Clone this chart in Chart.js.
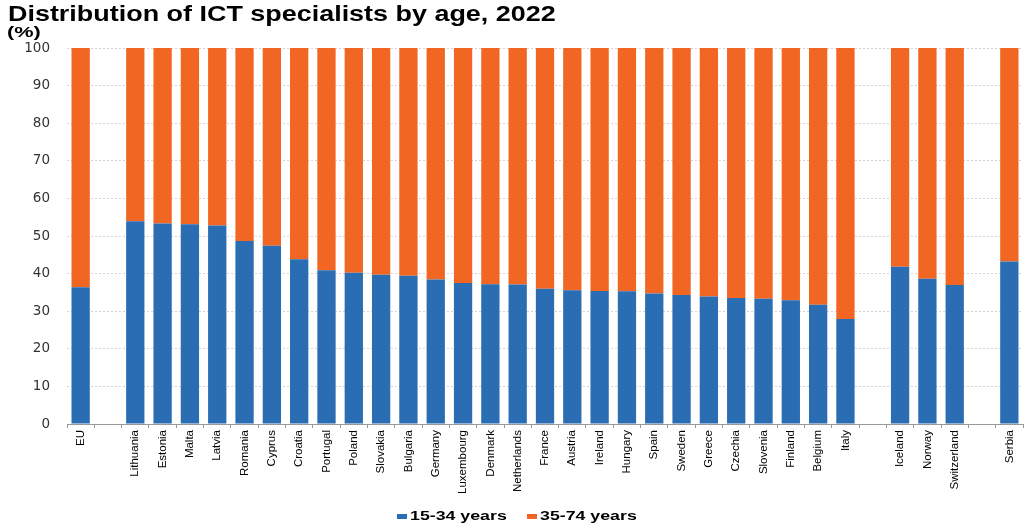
<!DOCTYPE html>
<html>
<head>
<meta charset="utf-8">
<title>ICT specialists by age</title>
<script src="https://cdn.jsdelivr.net/npm/chart.js@4"></script>
<style>
  html, body { margin: 0; padding: 0; background: #fff; }
  .wrap { position: relative; width: 1027px; height: 526px; }
  #chart { display: block; position: absolute; left: 0; top: 0; }
  .txt {
    position: absolute;
    font-family: "Liberation Sans", Arial, Helvetica, sans-serif;
    font-weight: bold;
    color: #000;
    line-height: 1;
    white-space: nowrap;
    transform-origin: left center;
  }
  #title { left: 8px; top: 3px; font-size: 22px; transform: scaleX(1.224); }
  #unit { left: 7px; top: 24px; font-size: 15px; transform: scaleX(1.45); }
  .legend-item { position: absolute; top: 510px; height: 13px; }
  .legend-item .box { position: absolute; left: 0; top: 4px; width: 10px; height: 5px; }
  .legend-item .label { left: 13px; top: 0; font-size: 12px; transform: scaleX(1.48); }
</style>
</head>
<body>
<div class="wrap">
  <canvas id="chart" width="1027" height="526"></canvas>
  <div class="txt" id="title">Distribution of ICT specialists by age, 2022</div>
  <div class="txt" id="unit">(%)</div>
  <div id="legend"></div>
</div>
<script>
// Categories; empty strings leave the gaps between country groups
const countries = [
  "EU", "",
  "Lithuania", "Estonia", "Malta", "Latvia", "Romania", "Cyprus", "Croatia",
  "Portugal", "Poland", "Slovakia", "Bulgaria", "Germany", "Luxembourg",
  "Denmark", "Netherlands", "France", "Austria", "Ireland", "Hungary", "Spain",
  "Sweden", "Greece", "Czechia", "Slovenia", "Finland", "Belgium", "Italy", "",
  "Iceland", "Norway", "Switzerland", "",
  "Serbia"
]

// Share of ICT specialists aged 15-34 (%)
const young = [
  36.4, null,
  53.9, 53.3, 53.1, 52.8, 48.7, 47.4, 43.8,
  40.9, 40.2, 39.7, 39.4, 38.4, 37.5,
  37.2, 37.1, 36.0, 35.6, 35.4, 35.3, 34.7,
  34.3, 33.9, 33.5, 33.3, 32.9, 31.7, 27.9, null,
  41.8, 38.6, 37.0, null,
  43.2
]

// Share of ICT specialists aged 35-74 (%)
const older = [
  63.6, null,
  46.1, 46.7, 46.9, 47.2, 51.3, 52.6, 56.2,
  59.1, 59.8, 60.3, 60.6, 61.6, 62.5,
  62.8, 62.9, 64.0, 64.4, 64.6, 64.7, 65.3,
  65.7, 66.1, 66.5, 66.7, 67.1, 68.3, 72.1, null,
  58.2, 61.4, 63.0, null,
  56.8
]

const yTicks = [0, 10, 20, 30, 40, 50, 60, 70, 80, 90, 100]

const FONT = "'Liberation Sans', Arial, Helvetica, sans-serif"
const TICK_FONT = "'DejaVu Sans', 'Liberation Sans', sans-serif"

const ctx = document.getElementById("chart").getContext("2d")
const chart = new Chart(ctx, {
  type: "bar",
  data: {
    labels: countries,
    datasets: [
      {
        label: "15-34 years",
        data: young,
        backgroundColor: "#2a6db3",
        barPercentage: 0.67,
        categoryPercentage: 1,
      },
      {
        label: "35-74 years",
        data: older,
        backgroundColor: "#f26624",
        barPercentage: 0.67,
        categoryPercentage: 1,
      },
    ],
  },
  options: {
    responsive: false,
    animation: false,
    layout: {
      padding: { left: 6, right: 4, top: 48, bottom: 0 },
    },
    plugins: {
      legend: { display: false },
      tooltip: { enabled: false },
    },
    scales: {
      x: {
        stacked: true,
        grid: {
          offset: true,
          drawOnChartArea: false,
          tickLength: 4,
          color: "#999",
        },
        border: { color: "#999" },
        ticks: {
          autoSkip: false,
          minRotation: 90,
          maxRotation: 90,
          padding: 2,
          color: "#000",
          font: { family: FONT, size: 11.5 },
        },
        afterFit: (scale) => {
          scale.height = 102
        },
      },
      y: {
        stacked: true,
        min: 0,
        max: 100,
        afterBuildTicks: (scale) => {
          scale.ticks = yTicks.map((v) => ({ value: v }))
        },
        afterFit: (scale) => {
          scale.width = 61
        },
        grid: {
          color: "#d4d4d4",
          drawTicks: false,
        },
        border: { display: false, dash: [2, 2] },
        ticks: {
          padding: 17,
          color: "#333",
          font: { family: TICK_FONT, size: 13.5 },
        },
      },
    },
  },
})

// Legend drawn as html so the labels keep the wide lettering of the source
const legendLeft = [397, 527]
const legend = document.getElementById("legend")
chart.data.datasets.forEach((ds, i) => {
  const item = document.createElement("div")
  item.className = "legend-item"
  item.style.left = legendLeft[i] + "px"
  item.innerHTML = `<span class="box" style="background:${ds.backgroundColor}"></span>` +
    `<span class="txt label">${ds.label}</span>`
  legend.appendChild(item)
})
</script>
</body>
</html>
